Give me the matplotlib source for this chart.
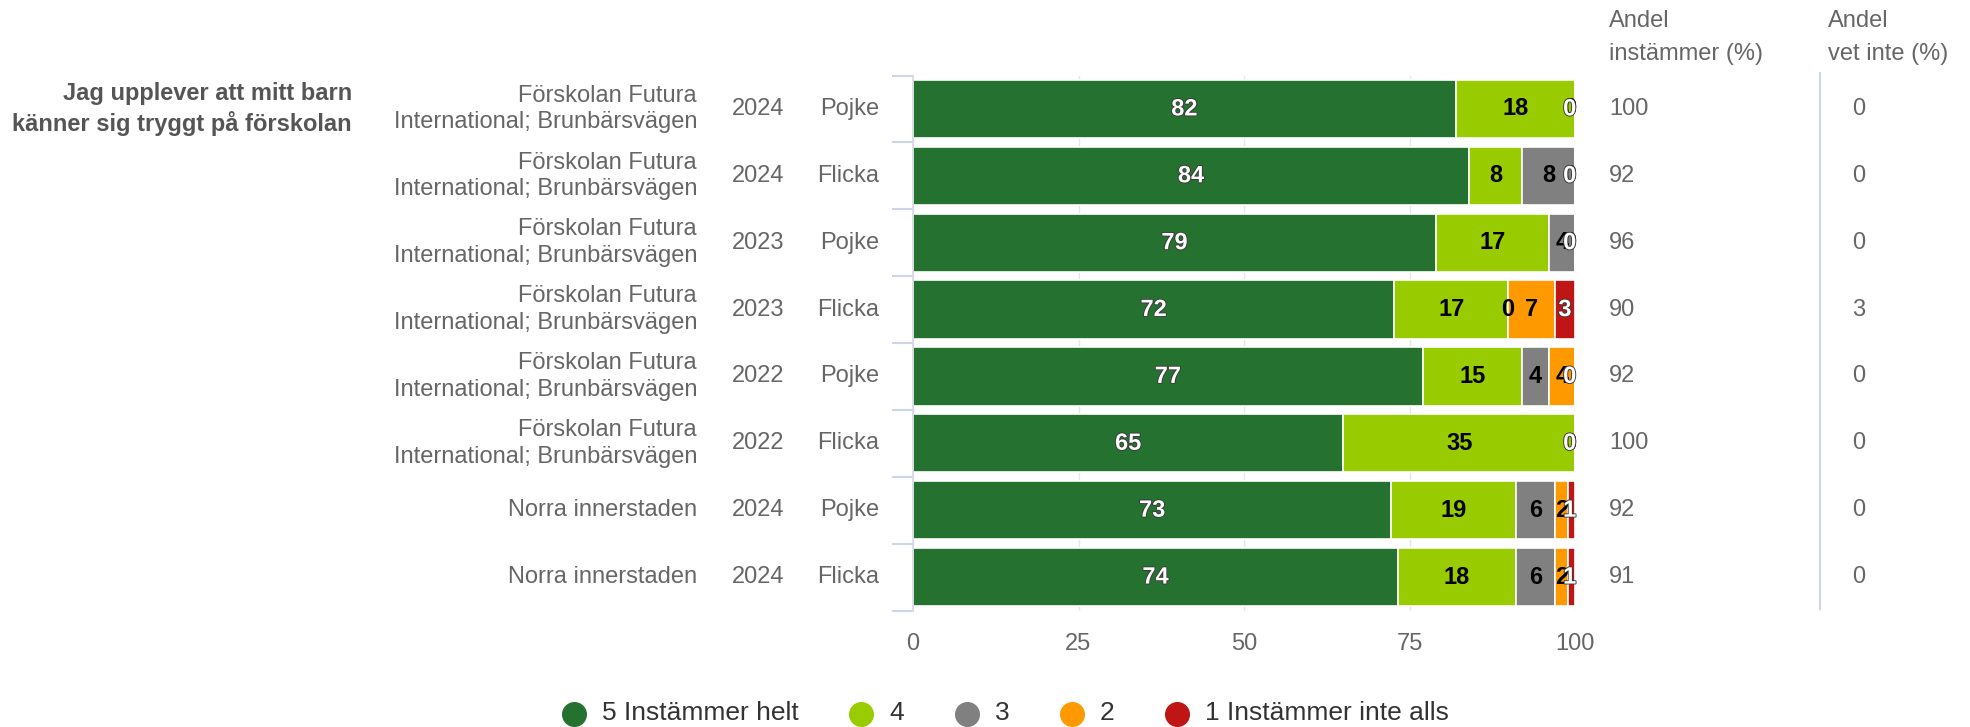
import matplotlib
matplotlib.use("Agg")
import matplotlib.pyplot as plt
import numpy as np
from matplotlib import patheffects as pe

plt.rcParams['font.family'] = ['Liberation Sans', 'DejaVu Sans']

# ---------------- data ----------------
schools = ["Förskolan Futura\nInternational; Brunbärsvägen"] * 6 + ["Norra innerstaden"] * 2
years = ["2024", "2024", "2023", "2023", "2022", "2022", "2024", "2024"]
genders = ["Pojke", "Flicka", "Pojke", "Flicka", "Pojke", "Flicka", "Pojke", "Flicka"]
s5 = [82, 84, 79, 72, 77, 65, 73, 74]
s4 = [18, 8, 17, 17, 15, 35, 19, 18]
s3 = [0, 8, 4, 0, 4, 0, 6, 6]
s2 = [0, 0, 0, 7, 4, 0, 2, 2]
s1 = [0, 0, 0, 3, 0, 0, 1, 1]
andel_instammer = [100, 92, 96, 90, 92, 100, 92, 91]
andel_vet_inte = [0, 0, 0, 3, 0, 0, 0, 0]
series_names = ["5 Instämmer helt", "4", "3", "2", "1 Instämmer inte alls"]
question = "Jag upplever att mitt barn\nkänner sig tryggt på förskolan"
header_instammer = "Andel\ninstämmer (%)"
header_vet_inte = "Andel\nvet inte (%)"
xticks = [0, 25, 50, 75, 100]

# ---------------- style ----------------
colors = ['#257230', '#99cc00', '#808080', '#ff9900', '#bf1515']
label_colors = ['white', 'black', 'black', 'black', 'white']
TXT = '#666666'
FS = 17

W, H = 1970, 727
fig = plt.figure(figsize=(W / 100, H / 100), dpi=100)

AX_L, AX_R, AX_T, AX_B = 913, 1575, 75.5, 610.5
ax = fig.add_axes([AX_L / W, 1 - AX_B / H, (AX_R - AX_L) / W, (AX_B - AX_T) / H])

def axx(px):
    return (px - AX_L) / (AX_R - AX_L)

series = [s5, s4, s3, s2, s1]
data = np.array(series, dtype=float)  # shape (5, n)
n = data.shape[1]
totals = data.sum(axis=0)
pct = data / totals * 100
y = np.arange(n)

lefts = np.zeros(n)
label_items = []
for k in range(5):
    ax.barh(y, pct[k], left=lefts, height=0.87, color=colors[k],
            edgecolor='white', linewidth=1.2, zorder=2)
    for i in range(n):
        cx = lefts[i] + pct[k][i] / 2
        cx = min(cx, 99.2)
        label_items.append((cx, i, series[k][i], label_colors[k]))
    lefts = lefts + pct[k]

for cx, i, v, c in label_items:
    effects = [pe.withStroke(linewidth=1.3, foreground='#3a3a3a')] if c == 'white' else []
    ax.text(cx, i, f"{v:d}", ha='center', va='center', fontsize=FS,
            fontweight='bold', color=c, zorder=5, path_effects=effects)

ax.set_xlim(0, 100)
ax.set_ylim(n - 0.5, -0.5)
ax.set_xticks(xticks)
ax.set_xticklabels([str(t) for t in xticks])
ax.tick_params(axis='x', length=0, pad=16, labelsize=FS, labelcolor=TXT)
ax.set_yticks([])
ax.set_yticks(np.arange(-0.5, n, 1), minor=True)
ax.tick_params(axis='y', which='minor', length=15, width=1.5, color='#ccd6eb')
ax.grid(axis='x', color='#e6e6e6', linewidth=1, zorder=0)
ax.set_axisbelow(True)
for s in ['top', 'right', 'bottom']:
    ax.spines[s].set_visible(False)
ax.spines['left'].set_color('#d6d9e0')
ax.spines['left'].set_linewidth(1.2)

# row labels
ytr = ax.get_yaxis_transform()
for i in range(n):
    ax.text(axx(697), i, schools[i], transform=ytr, ha='right', va='center',
            fontsize=FS, color=TXT, linespacing=1.27, multialignment='right')
    ax.text(axx(758), i, years[i], transform=ytr, ha='center', va='center',
            fontsize=FS, color=TXT)
    ax.text(axx(879), i, genders[i], transform=ytr, ha='right', va='center',
            fontsize=FS, color=TXT)
    ax.text(axx(1609), i, f"{andel_instammer[i]}", transform=ytr, ha='left',
            va='center', fontsize=FS, color=TXT)
    ax.text(axx(1852), i, f"{andel_vet_inte[i]}", transform=ytr, ha='left',
            va='center', fontsize=FS, color=TXT)

ax.text(axx(352), 0, question, transform=ytr, ha='right', va='center',
        fontsize=FS, color='#555555', fontweight='bold', linespacing=1.27,
        multialignment='right')

# overlay in pixel coords for headers, separator and legend
ov = fig.add_axes([0, 0, 1, 1])
ov.set_xlim(0, W)
ov.set_ylim(H, 0)
ov.axis('off')
ov.patch.set_visible(False)

ov.text(1609, 37.5, header_instammer, ha='left', va='center', fontsize=FS,
        color=TXT, linespacing=1.6)
ov.text(1828, 37.5, header_vet_inte, ha='left', va='center', fontsize=FS,
        color=TXT, linespacing=1.6)
ov.plot([1820, 1820], [73, 609], color='#ccd6eb', linewidth=1.5)

leg_circle_x = [574, 861, 967, 1072, 1177]
leg_y = 713.5
for k in range(5):
    ov.plot([leg_circle_x[k]], [leg_y], marker='o', markersize=17,
            color=colors[k], linestyle='none')
    ov.text(leg_circle_x[k] + 28, leg_y, series_names[k], ha='left',
            va='center', fontsize=19, color='#333333')

fig.savefig("out.png", dpi=100)
